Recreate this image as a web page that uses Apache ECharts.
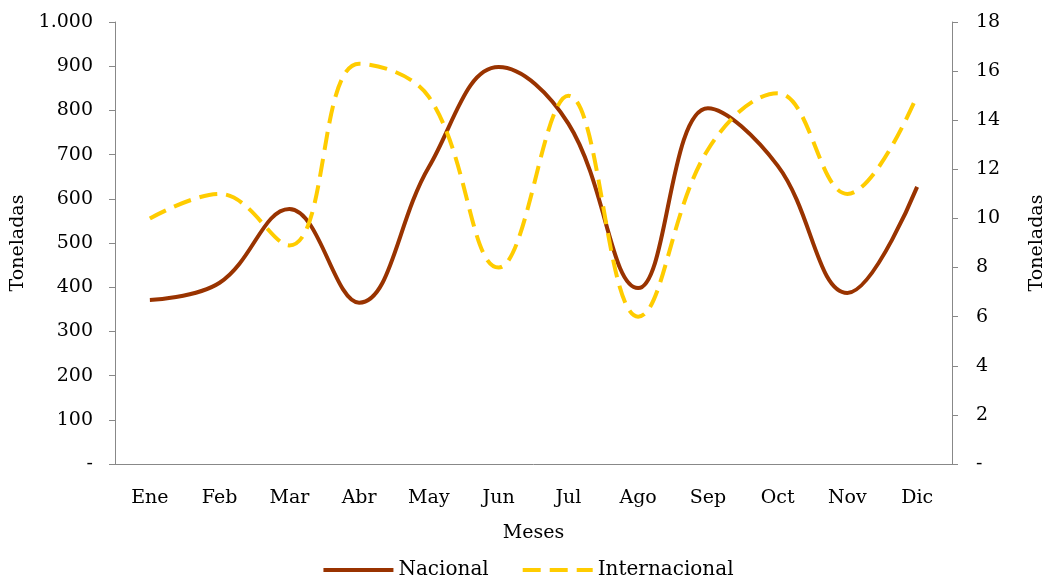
<!DOCTYPE html>
<html><head><meta charset="utf-8">
<script src="https://cdn.jsdelivr.net/npm/echarts@6/dist/echarts.min.js"></script>
<style>html,body{margin:0;padding:0;background:#fff}#c{width:1055px;height:578px}</style>
</head><body><div id="c"></div>
<script>
const categories = ['Ene','Feb','Mar','Abr','May','Jun','Jul','Ago','Sep','Oct','Nov','Dic'];
const nacional = [371, 410, 577, 365, 672, 898, 770, 398, 805, 675, 387, 627];
const internacional = [10.0, 11.0, 8.9, 16.3, 14.95, 8.0, 15.0, 6.0, 12.8, 15.1, 11.0, 15.0];
const leftTicks = {min: 0, max: 1000, interval: 100};
const rightTicks = {min: 0, max: 18, interval: 2};

const FONT = 'DejaVu Serif';
const txt = {fontFamily: FONT, fontSize: 19, color: '#000'};
function fmtLeft(v){ if (v === 0) return '-'; return String(v).replace(/\B(?=(\d{3})+(?!\d))/g, '.'); }
function fmtRight(v){ return v === 0 ? '-' : String(v); }

const chart = echarts.init(document.getElementById('c'));
chart.setOption({
  animation: false,
  grid: {left: 115, right: 98, top: 22, bottom: 114, containLabel: false},
  legend: {
    top: 555, left: 'center',
    itemWidth: 70, itemHeight: 4, itemGap: 32,
    textStyle: Object.assign({}, txt, {fontSize: 20}),
    lineStyle: {width: 4},
    itemStyle: {opacity: 0},
    data: ['Nacional', 'Internacional']
  },
  xAxis: {
    type: 'category', data: categories, boundaryGap: true,
    name: 'Meses', nameLocation: 'middle', nameGap: 60, nameTextStyle: txt,
    axisLine: {lineStyle: {color: '#888', width: 1}},
    axisTick: {show: false},
    axisLabel: Object.assign({}, txt, {margin: 25}),
    splitLine: {show: false}
  },
  yAxis: [
    {
      type: 'value', min: leftTicks.min, max: leftTicks.max, interval: leftTicks.interval,
      name: 'Toneladas', nameLocation: 'middle', nameGap: 85, nameRotate: 90, nameTextStyle: txt,
      axisLine: {show: true, lineStyle: {color: '#888'}},
      axisTick: {show: true, length: 6, lineStyle: {color: '#888'}},
      axisLabel: Object.assign({}, txt, {margin: 22, formatter: fmtLeft}),
      splitLine: {show: false}
    },
    {
      type: 'value', min: rightTicks.min, max: rightTicks.max, interval: rightTicks.interval,
      name: 'Toneladas', nameLocation: 'middle', nameGap: 76, nameRotate: 90, nameTextStyle: txt,
      axisLine: {show: true, lineStyle: {color: '#888'}},
      axisTick: {show: true, length: 6, lineStyle: {color: '#888'}},
      axisLabel: Object.assign({}, txt, {margin: 24, formatter: fmtRight}),
      splitLine: {show: false}
    }
  ],
  series: [
    {
      name: 'Nacional', type: 'line', yAxisIndex: 0, data: nacional,
      smooth: 0.4, symbol: 'none',
      lineStyle: {color: '#993300', width: 4},
      itemStyle: {color: '#993300'}
    },
    {
      name: 'Internacional', type: 'line', yAxisIndex: 1, data: internacional,
      smooth: 0.4, symbol: 'none',
      lineStyle: {color: '#FFCC00', width: 4, type: [18, 9]},
      itemStyle: {color: '#FFCC00'}
    }
  ]
});
</script></body></html>
